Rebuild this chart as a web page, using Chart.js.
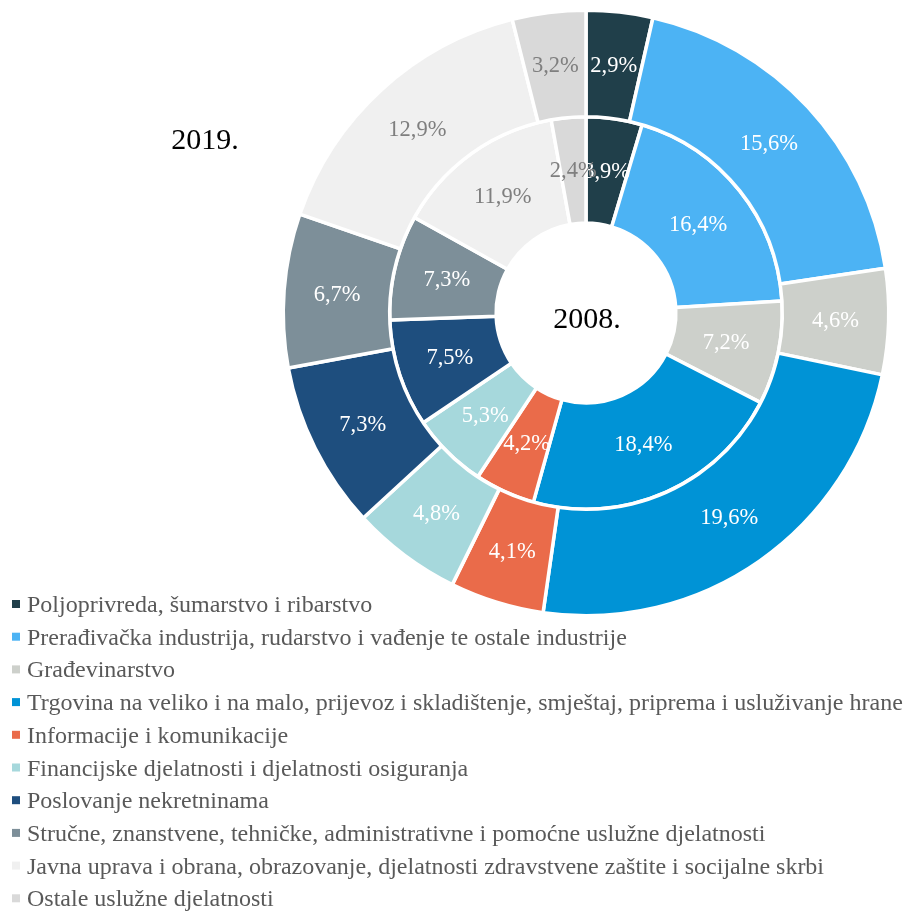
<!DOCTYPE html>
<html>
<head>
<meta charset="utf-8">
<script src="https://cdn.jsdelivr.net/npm/chart.js@4"></script>
<style>
  html, body { margin: 0; padding: 0; background: #fff; }
  #wrap { width: 905px; height: 912px; position: relative; }
</style>
</head>
<body>
<div id="wrap"><canvas id="gva-chart" width="905" height="912"></canvas></div>
<script>
const sectors = [
    "Poljoprivreda, šumarstvo i ribarstvo",
    "Prerađivačka industrija, rudarstvo i vađenje te ostale industrije",
    "Građevinarstvo",
    "Trgovina na veliko i na malo, prijevoz i skladištenje, smještaj, priprema i usluživanje hrane",
    "Informacije i komunikacije",
    "Financijske djelatnosti i djelatnosti osiguranja",
    "Poslovanje nekretninama",
    "Stručne, znanstvene, tehničke, administrativne i pomoćne uslužne djelatnosti",
    "Javna uprava i obrana, obrazovanje, djelatnosti zdravstvene zaštite i socijalne skrbi",
    "Ostale uslužne djelatnosti"
];
const share2019 = [2.9, 15.6, 4.6, 19.6, 4.1, 4.8, 7.3, 6.7, 12.9, 3.2];
const share2008 = [3.9, 16.4, 7.2, 18.4, 4.2, 5.3, 7.5, 7.3, 11.9, 2.4];
const colors = ["#203f4a", "#4cb3f4", "#cdd0cb", "#0093d6", "#ea6b4a",
                "#a6d8dc", "#1e4e7e", "#7d8f99", "#f0f0f0", "#d9d9d9"];
const labelColors = ["#fff", "#fff", "#fff", "#fff", "#fff",
                     "#fff", "#fff", "#fff", "#7f7f7f", "#7f7f7f"];

const serif = '"Liberation Serif", "Times New Roman", serif';

// percentage labels in the middle of every slice
const sliceLabels = {
    id: "sliceLabels",
    afterDatasetsDraw(chart) {
        const ctx = chart.ctx;
        ctx.save();
        ctx.font = "22.5px " + serif;
        ctx.textAlign = "center";
        ctx.textBaseline = "middle";
        chart.data.datasets.forEach((ds, di) => {
            const meta = chart.getDatasetMeta(di);
            meta.data.forEach((arc, i) => {
                const p = arc.getCenterPoint();
                ctx.fillStyle = labelColors[i];
                ctx.fillText(ds.data[i].toFixed(1).replace(".", ",") + "%", p.x, p.y + 1);
            });
        });
        ctx.restore();
    }
};

// year captions + legend list drawn under the chart
const extras = {
    id: "extras",
    afterDraw(chart) {
        const ctx = chart.ctx;
        ctx.save();
        ctx.fillStyle = "#000";
        ctx.font = "30px " + serif;
        ctx.textAlign = "center";
        ctx.textBaseline = "alphabetic";
        ctx.fillText("2019.", 205, 149);
        ctx.fillText("2008.", 587, 328);

        ctx.font = "24px " + serif;
        ctx.textAlign = "left";
        for (let i = 0; i < sectors.length; i++) {
            let y = 612 + i * 32.7;
            ctx.fillStyle = colors[i];
            ctx.fillRect(12, y - 12, 8, 8);
            ctx.fillStyle = "#595959";
            ctx.fillText(sectors[i], 27, y);
        }
        ctx.restore();
    }
};

new Chart(document.getElementById("gva-chart"), {
    type: "doughnut",
    data: {
        labels: sectors,
        datasets: [
            {
                label: "2019.",
                data: share2019,
                backgroundColor: colors,
                borderColor: "#fff",
                borderWidth: 3.5
            },
            {
                label: "2008.",
                data: share2008,
                backgroundColor: colors,
                borderColor: "#fff",
                borderWidth: 3.5
            }
        ]
    },
    options: {
        responsive: false,
        animation: false,
        cutout: "29.7%",
        layout: {
            padding: { left: 281.5, right: 14.5, top: 8.5, bottom: 294.5 }
        },
        plugins: {
            legend: { display: false },
            tooltip: { enabled: false }
        }
    },
    plugins: [sliceLabels, extras]
});
</script>
</body>
</html>
